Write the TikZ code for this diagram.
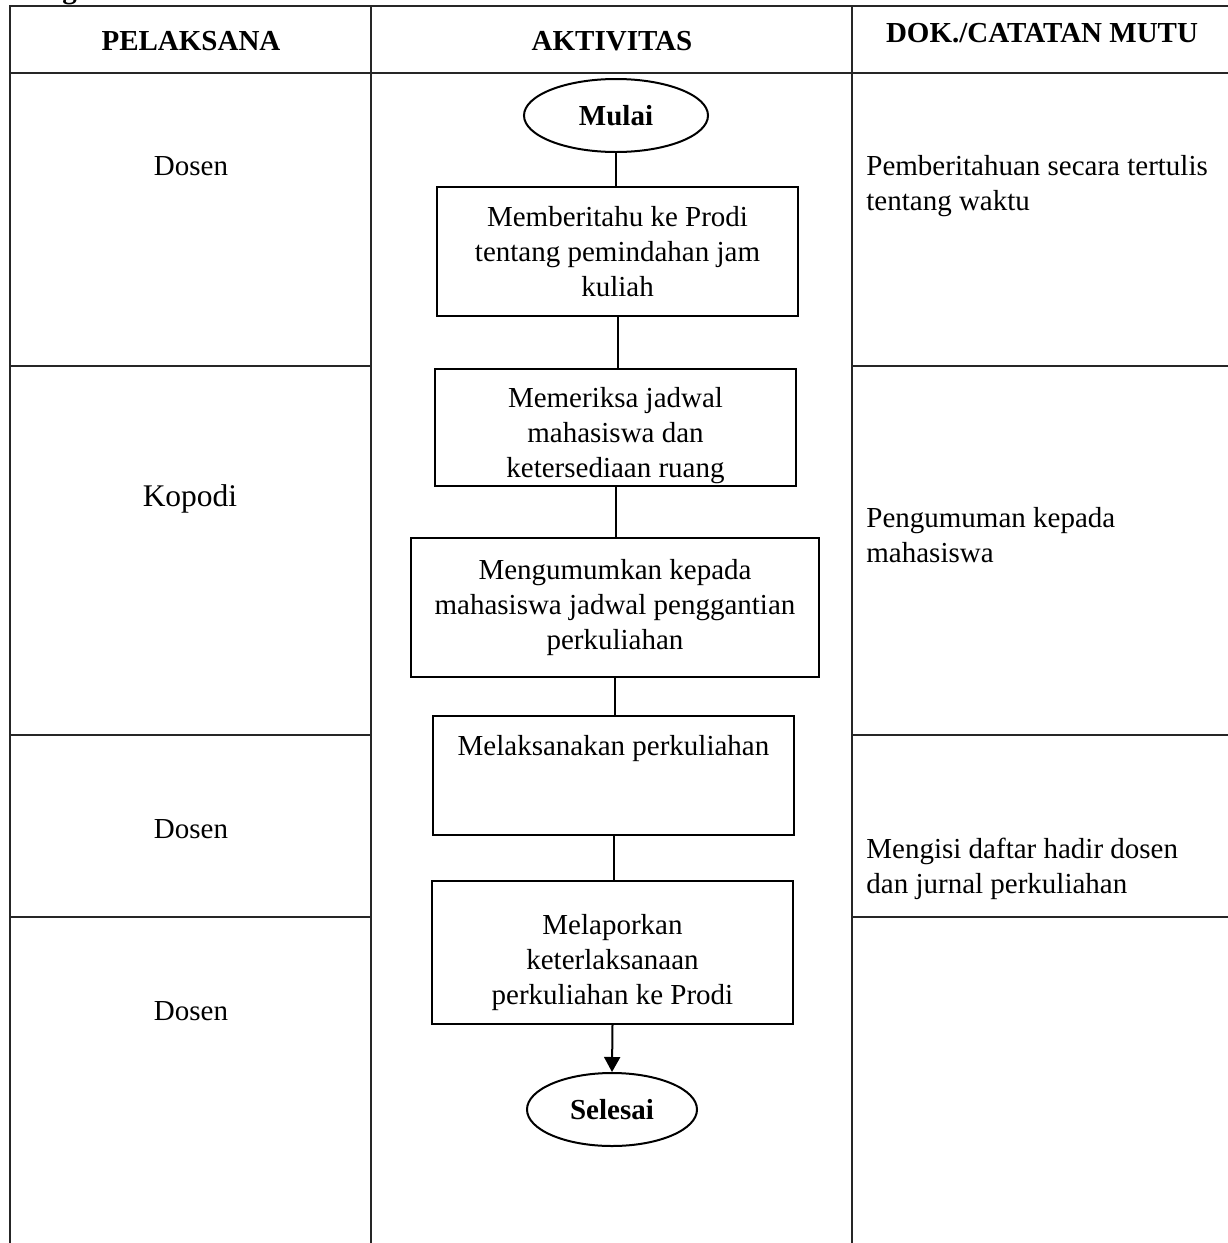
\documentclass[tikz,border=0pt]{standalone}
\usepackage{fontspec}
\setmainfont{Liberation Serif}
\usetikzlibrary{arrows.meta,shapes.geometric}
\newcommand\myfirstpad[1]{\rule{0pt}{#1}}
\begin{document}
\begin{tikzpicture}[x=0.5pt,y=-0.5pt,
  txt/.style={font=\fontsize{14.5pt}{17.5pt}\selectfont},
  hdr/.style={font=\fontsize{14.5pt}{17.5pt}\selectfont\bfseries, inner sep=0pt, anchor=base},
  grid/.style={line width=1pt, black!85},
  stepbox/.style={draw, line width=1pt, rectangle, align=center, inner sep=2pt, txt},
  boxtext/.style={align=center, inner sep=0pt, txt},
  term/.style={draw, line width=1pt, ellipse, inner sep=0pt, font=\fontsize{14.5pt}{17.5pt}\selectfont\bfseries},
  conn/.style={line width=1pt},
  lbl/.style={txt, inner sep=0pt, anchor=base},
  doc/.style={txt, inner sep=0pt, anchor=base west, align=left}
]
\useasboundingbox (0,0) rectangle (1227,1243);
% partial heading above the table (cut off by the page)
\node[hdr, anchor=base west] (cut) at (62,-2) {g};
% table
\draw[grid] (10,1243) -- (10,6) -- (1240,6);
\draw[grid] (10,73) -- (1240,73);
\draw[grid] (371,6) -- (371,1243);
\draw[grid] (852,6) -- (852,1243);
\draw[grid] (10,366) -- (371,366);
\draw[grid] (10,735) -- (371,735);
\draw[grid] (10,917) -- (371,917);
\draw[grid] (852,366) -- (1240,366);
\draw[grid] (852,735) -- (1240,735);
\draw[grid] (852,917) -- (1240,917);
% headers
\node[hdr] (h1) at (191,50) {PELAKSANA};
\node[hdr] (h2) at (612,50) {AKTIVITAS};
\node[hdr] (h3) at (1042,42) {DOK./CATATAN MUTU};
% left column
\node[lbl] (p1) at (191,175) {Dosen};
\node[lbl, font=\fontsize{15.75pt}{18pt}\selectfont] (p2) at (190,506) {Kopodi};
\node[lbl] (p3) at (191,838) {Dosen};
\node[lbl] (p4) at (191,1020) {Dosen};
% right column (base = baseline of the last line)
\node[doc] (d1) at (866,210) {Pemberitahuan secara tertulis\\tentang waktu};
\node[doc] (d2) at (866,562) {Pengumuman kepada\\mahasiswa};
\node[doc] (d3) at (866,893) {Mengisi daftar hadir dosen\\dan jurnal perkuliahan};
% flow
\node[term, minimum width=92pt, minimum height=36.5pt] (mulai) at (616,115.5) {Mulai};
\node[stepbox, minimum width=180.5pt, minimum height=64.5pt] (b1) at (617.5,251.5)
  {Memberitahu ke Prodi\\tentang pemindahan jam\\kuliah};
\node[stepbox, minimum width=180.5pt, minimum height=58.5pt] (b2) at (615.5,427.5) {};
\node[boxtext, yshift=-4.25pt] (b2t) at (b2.center)
  {Memeriksa jadwal\\mahasiswa dan\\ketersediaan ruang};
\node[stepbox, minimum width=204pt, minimum height=69.5pt] (b3) at (615,607.5)
  {Mengumumkan kepada\\mahasiswa jadwal penggantian\\perkuliahan};
\node[stepbox, minimum width=180.5pt, minimum height=59.5pt] (b4) at (613.5,775.5)
  {\myfirstpad{15pt}Melaksanakan perkuliahan\\\mbox{}\\\mbox{}};
\node[stepbox, minimum width=180.5pt, minimum height=71.5pt] (b5) at (612.5,952.5)
  {\myfirstpad{20pt}Melaporkan\\keterlaksanaan\\perkuliahan ke Prodi};
\node[term, minimum width=85pt, minimum height=36.5pt] (selesai) at (612,1109.5) {Selesai};
\draw[conn] (mulai.south) -- (mulai.south |- b1.north);
\draw[conn] (b1.south) -- (b1.south |- b2.north);
\draw[conn] (b2.south) -- (b2.south |- b3.north);
\draw[conn] (b3.south) -- (b3.south |- b4.north);
\draw[conn] (b4.south) -- (b4.south |- b5.north);
\draw[conn, -{Triangle[length=7.5pt,width=8pt]}] (b5.south) -- (selesai.north);
\end{tikzpicture}
\end{document}
